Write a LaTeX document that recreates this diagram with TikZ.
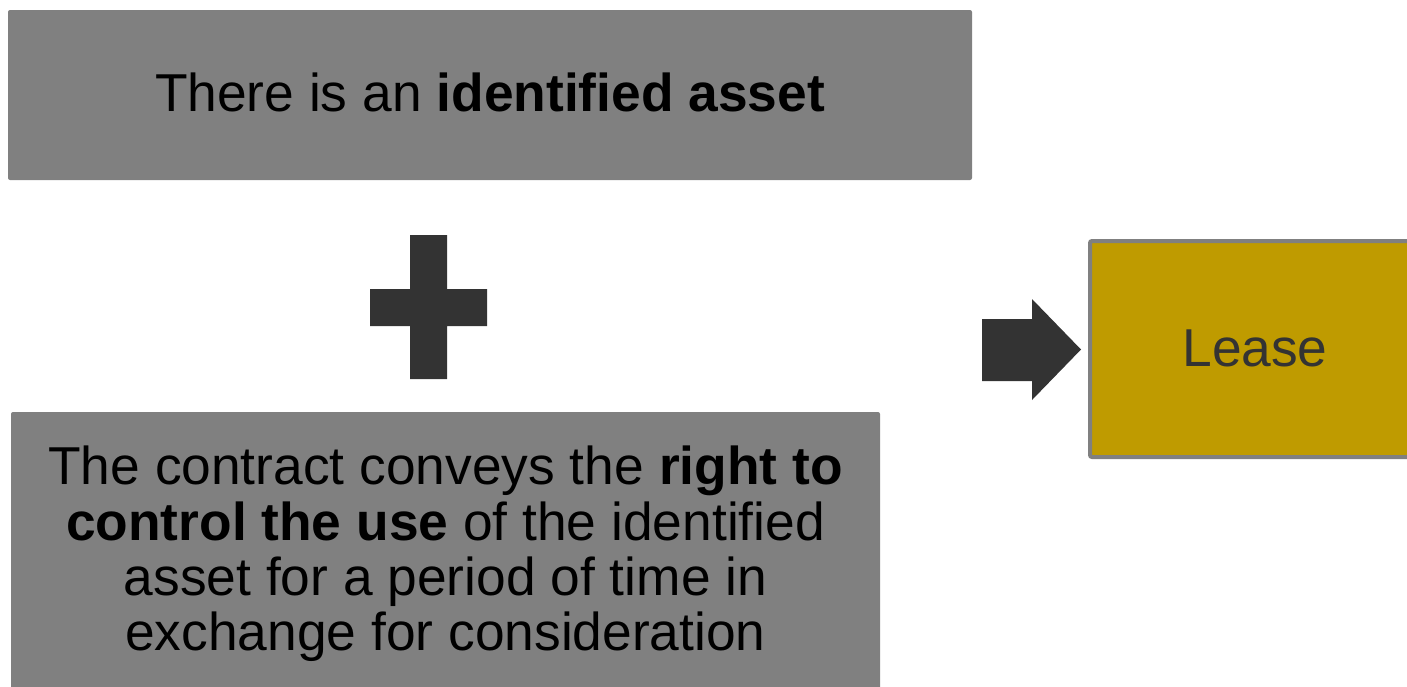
\documentclass[tikz,border=0pt]{standalone}
\usepackage{fontspec}
\setmainfont{Liberation Sans}
\definecolor{boxgray}{HTML}{808080}
\definecolor{darkfill}{HTML}{333333}
\definecolor{goldfill}{HTML}{BF9B00}
\tikzset{
  graybox/.style={fill=boxgray, rounded corners=1.5pt, inner sep=0pt},
  leasebox/.style={fill=goldfill, draw=boxgray, line width=3pt, rounded corners=1.5pt, inner sep=0pt},
  darkshape/.style={fill=darkfill},
  bigtext/.style={font=\fontsize{40}{41.4}\selectfont, inner sep=0pt},
}
\begin{document}
\begin{tikzpicture}[x=0.75pt,y=-0.75pt]
\useasboundingbox (0,0) rectangle (1407,686);
\clip (0,0) rectangle (1407,686);
% top box
\node[graybox, minimum width=723pt, minimum height=127.5pt] (top) at (490,95) {};
\node[bigtext, text=black, anchor=base] (toptext) at (490,111.7) {There is an \textbf{identified asset}};
% bottom box
\node[graybox, minimum width=651.75pt, minimum height=261pt] (bottom) at (445.5,586) {};
\node[bigtext, text=black, align=center] (bottomtext) at (445.5,554)
  {The contract conveys the \textbf{right to}\\\textbf{control the use} of the identified\\asset for a period of time in\\exchange for consideration};
% plus sign
\fill[darkshape] (410,235) -- (447,235) -- (447,289) -- (487,289) -- (487,326) -- (447,326) -- (447,379) -- (410,379) -- (410,326) -- (370,326) -- (370,289) -- (410,289) -- cycle;
% lease box
\node[leasebox, minimum width=247.5pt, minimum height=162pt] (lease) at (1255,349) {};
\node[bigtext, text=darkfill, anchor=base] (leasetext) at (1255,366) {Lease};
% arrow
\fill[darkshape] (982,319) -- (1032,319) -- (1032,299) -- (1081,349.5) -- (1032,400) -- (1032,381) -- (982,381) -- cycle;
\end{tikzpicture}
\end{document}
